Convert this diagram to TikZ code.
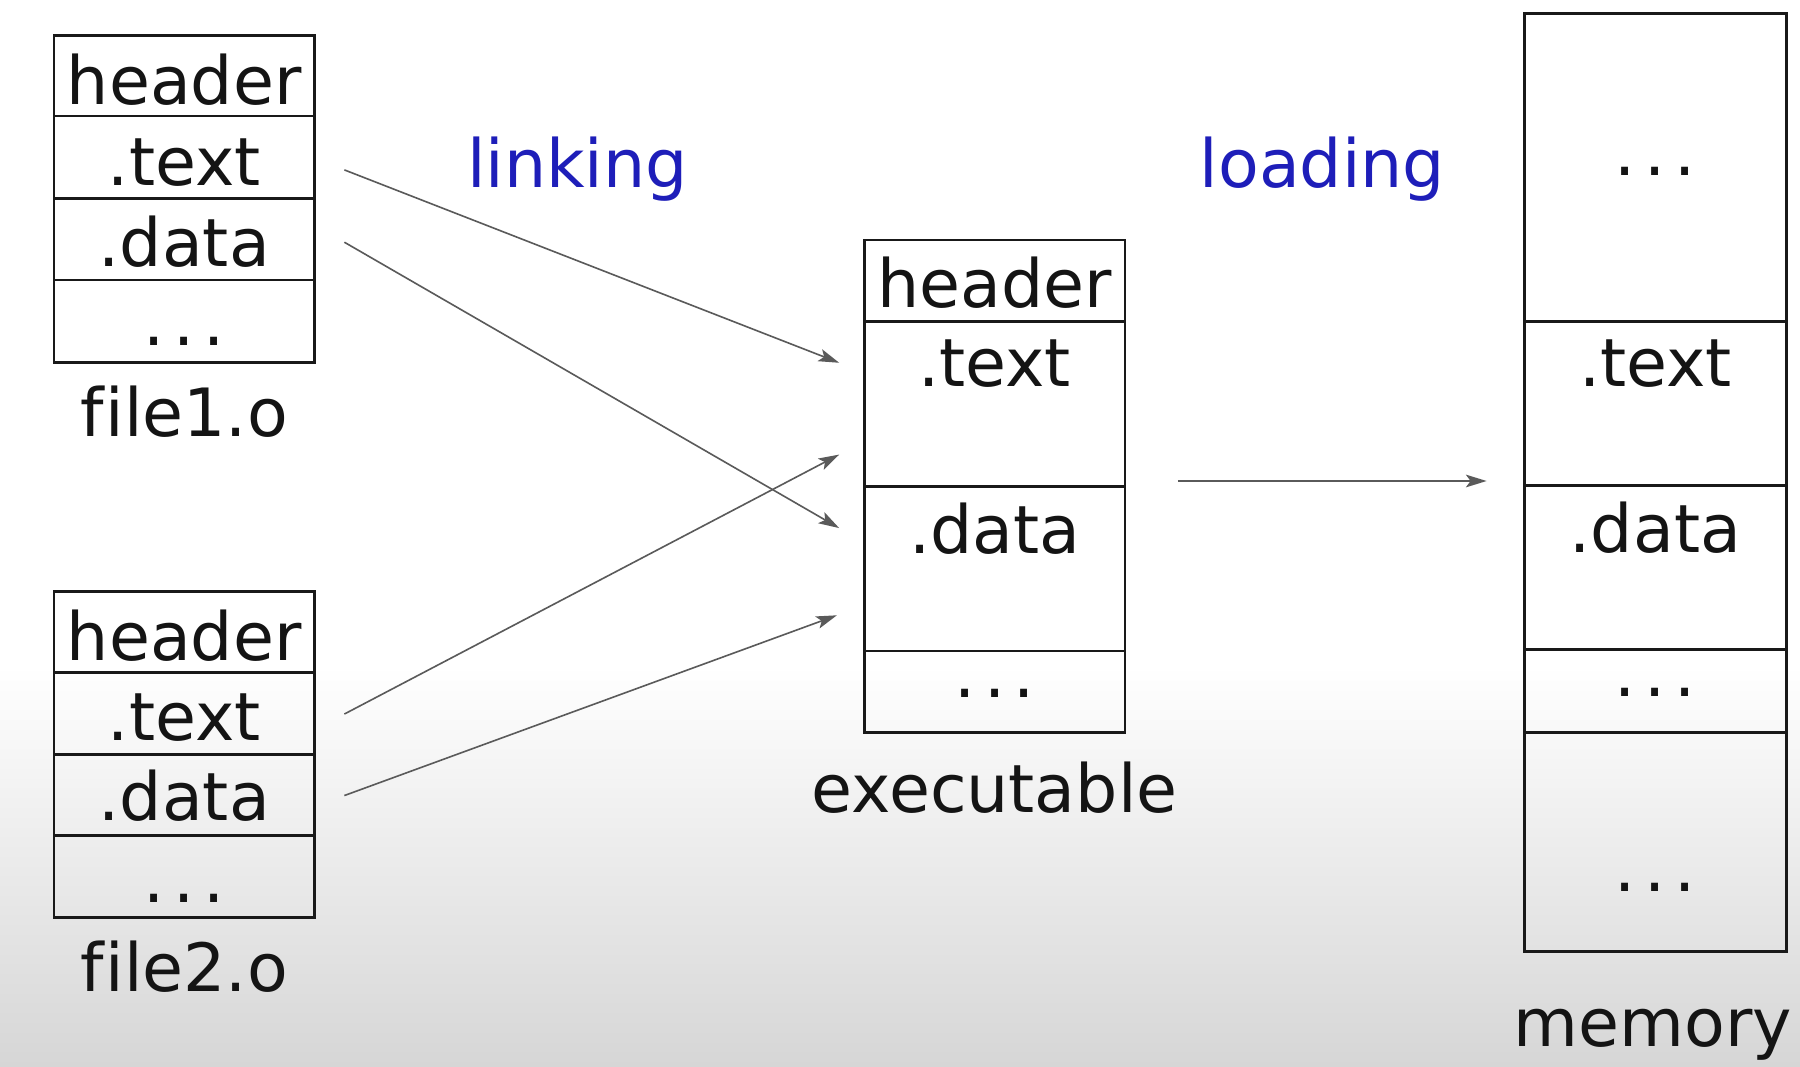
\documentclass[tikz,border=0pt]{standalone}
\usepackage{fontspec}
\setmainfont[Ligatures=NoCommon]{DejaVu Sans}
\usetikzlibrary{arrows.meta,calc}
\definecolor{linkblue}{RGB}{30,30,185}
\definecolor{arrgray}{RGB}{90,90,90}
\definecolor{bggray}{RGB}{214,214,214}
\newcommand\mydots{.\hspace{0.13em}.\hspace{0.13em}.}
\begin{document}
\begin{tikzpicture}[x=1pt,y=-1pt,
  cell/.style={draw=black!90, line width=2.4pt, inner sep=0pt, minimum width=227pt},
  txt/.style={font=\fontsize{58}{70}\selectfont, inner sep=0pt, anchor=base, text=black!92},
  lbl/.style={txt, text=linkblue},
  link/.style={draw=arrgray, line width=1.4pt, -{Stealth[length=18pt,width=11pt,inset=4pt]}}]
\useasboundingbox (0,0) rectangle (1568,929);
% background
\fill[white] (0,0) rectangle (1568,929);
\shade[top color=white, bottom color=bggray] (0,580) rectangle (1568,929);

% file1.o
\node[cell, minimum height=70pt] (f1h) at (160.5,66) {};
\node[cell, minimum height=72pt] (f1t) at (160.5,137) {};
\node[cell, minimum height=71pt] (f1d) at (160.5,208.5) {};
\node[cell, minimum height=72pt] (f1e) at (160.5,280) {};
\node[txt] (f1hT) at (160.5,91) {header};
\node[txt] (f1tT) at (160.5,162) {.text};
\node[txt] (f1dT) at (160.5,232) {.data};
\node[txt] (f1eT) at (160.5,301) {\mydots};
\node[txt] (f1L) at (160.5,380) {f\kern0.02em ile1.o};

% file2.o
\node[cell, minimum height=71pt] (f2h) at (160.5,550.5) {};
\node[cell, minimum height=71pt] (f2t) at (160.5,621.5) {};
\node[cell, minimum height=71pt] (f2d) at (160.5,692.5) {};
\node[cell, minimum height=71pt] (f2e) at (160.5,763.5) {};
\node[txt] (f2hT) at (160.5,575) {header};
\node[txt] (f2tT) at (160.5,645) {.text};
\node[txt] (f2dT) at (160.5,715) {.data};
\node[txt] (f2eT) at (160.5,786) {\mydots};
\node[txt] (f2L) at (160.5,864) {f\kern0.02em ile2.o};

% executable
\node[cell, minimum height=71pt] (exh) at (866.5,244.5) {};
\node[cell, minimum height=144pt] (ext) at (866.5,352) {};
\node[cell, minimum height=143pt] (exd) at (866.5,495.5) {};
\node[cell, minimum height=71pt] (exe) at (866.5,602.5) {};
\node[txt] (exhT) at (866.5,268) {header};
\node[txt] (extT) at (866.5,337) {.text};
\node[txt] (exdT) at (866.5,482) {.data};
\node[txt] (exeT) at (866.5,608) {\mydots};
\node[txt] (exL) at (866.5,708) {executable};

% memory
\node[cell, minimum width=228pt, minimum height=268pt] (m1) at (1442,146) {};
\node[cell, minimum width=228pt, minimum height=143pt] (m2) at (1442,351.5) {};
\node[cell, minimum width=228pt, minimum height=143pt] (m3) at (1442,494.5) {};
\node[cell, minimum width=228pt, minimum height=72pt] (m4) at (1442,602) {};
\node[cell, minimum width=228pt, minimum height=191pt] (m5) at (1442,733.5) {};
\node[txt] (m1T) at (1442,153) {\mydots};
\node[txt] (m2T) at (1442,337) {.text};
\node[txt] (m3T) at (1442,481) {.data};
\node[txt] (m4T) at (1442,607) {\mydots};
\node[txt] (m5T) at (1442,777) {\mydots};
\node[txt] (mL) at (1440,912) {memory};

% stage labels
\node[lbl] (linking) at (503,163) {linking};
\node[lbl] (loading) at (1152,163) {loading};

% connector endpoints
\coordinate (a1s) at (300,148);  \coordinate (a1e) at (731,316);
\coordinate (a2s) at (300,211);  \coordinate (a2e) at (731,460);
\coordinate (a3s) at (300,622);  \coordinate (a3e) at (731,396);
\coordinate (a4s) at (300,693);  \coordinate (a4e) at (729,536);
\coordinate (a5s) at (1026,419); \coordinate (a5e) at (1295,419);

\draw[link] (a1s) -- (a1e);
\draw[link] (a2s) -- (a2e);
\draw[link] (a3s) -- (a3e);
\draw[link] (a4s) -- (a4e);
\draw[link] (a5s) -- (a5e);
\end{tikzpicture}
\end{document}
